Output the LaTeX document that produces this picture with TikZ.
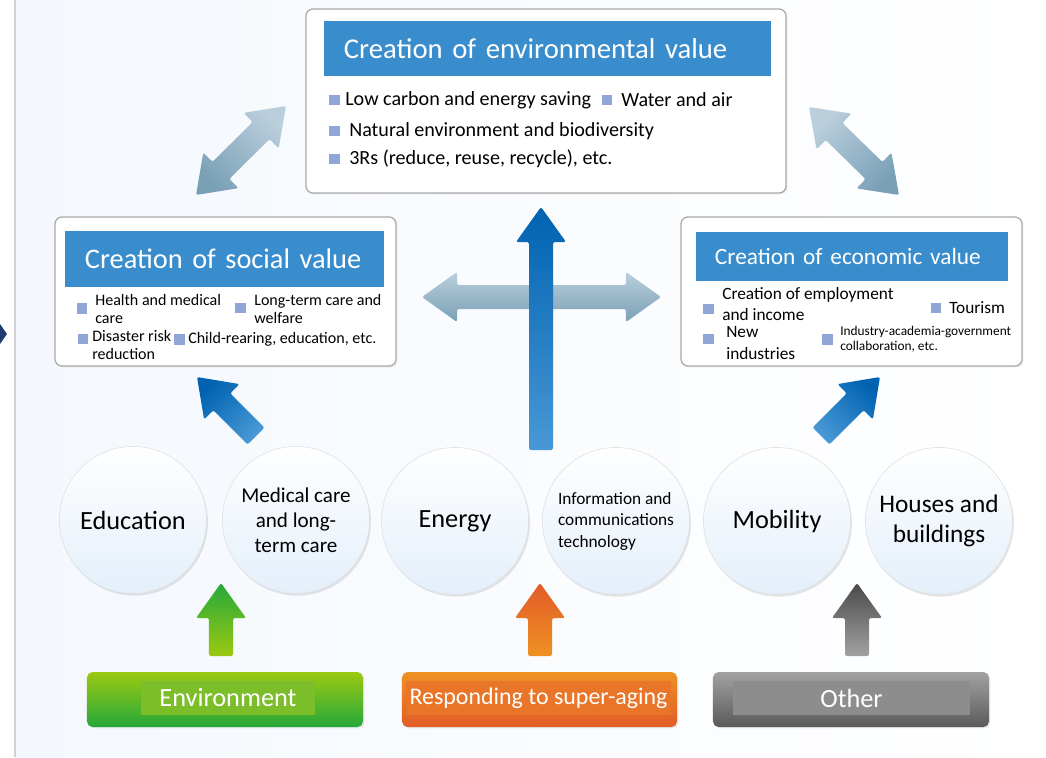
\documentclass[tikz,border=0pt]{standalone}
\usepackage{fontspec}
\setmainfont{Carlito}
\usetikzlibrary{calc,shadows}

\definecolor{titleblue}{RGB}{58,141,205}
\definecolor{bulletblue}{RGB}{143,166,214}
\definecolor{panelline}{RGB}{170,170,170}
\definecolor{palearrow}{RGB}{186,207,220}
\definecolor{palearrowdk}{RGB}{122,160,182}
\definecolor{bluedark}{RGB}{0,98,176}
\definecolor{bluelight}{RGB}{72,152,213}
\definecolor{circbot}{RGB}{228,239,250}
\definecolor{bgblue}{RGB}{244,248,253}
\definecolor{navy}{RGB}{31,58,110}
\definecolor{greentop}{RGB}{156,201,18}
\definecolor{greenbot}{RGB}{37,168,57}
\definecolor{greenin}{RGB}{124,189,42}
\definecolor{orangetop}{RGB}{238,146,35}
\definecolor{orangebot}{RGB}{226,91,40}
\definecolor{orangein}{RGB}{233,118,40}
\definecolor{graytop}{RGB}{162,162,162}
\definecolor{graybot}{RGB}{90,90,90}
\definecolor{grayin}{RGB}{141,141,141}

% block arrow: tail, tip, style
\newcommand\oneway[3]{%
  \coordinate (hb) at ($(#2)!0.875cm!(#1)$);
  \path[rounded corners=1.5pt, #3] ($(#1)!0.3cm!90:(#2)$) -- ($(hb)!0.3cm!90:(#2)$)
    -- ($(hb)!0.625cm!90:(#2)$) -- (#2) -- ($(hb)!0.625cm!-90:(#2)$)
    -- ($(hb)!0.3cm!-90:(#2)$) -- ($(#1)!0.3cm!-90:(#2)$) -- cycle;
}
% block arrow with two heads: tip, tip, style
\newcommand\twoway[3]{%
  \coordinate (hba) at ($(#1)!0.875cm!(#2)$);
  \coordinate (hbb) at ($(#2)!0.875cm!(#1)$);
  \path[rounded corners=1.5pt, #3] (#1) -- ($(hba)!0.625cm!90:(#2)$) -- ($(hba)!0.3cm!90:(#2)$)
    -- ($(hbb)!0.3cm!90:(#2)$) -- ($(hbb)!0.625cm!90:(#2)$) -- (#2)
    -- ($(hbb)!0.625cm!-90:(#2)$) -- ($(hbb)!0.3cm!-90:(#2)$)
    -- ($(hba)!0.3cm!-90:(#2)$) -- ($(hba)!0.625cm!-90:(#2)$) -- cycle;
}

\begin{document}
\begin{tikzpicture}[x=0.025cm, y=-0.025cm,
  panel/.style={draw=panelline, line width=0.9pt, fill=white, rounded corners=5pt,
    drop shadow={opacity=0.15, shadow xshift=1pt, shadow yshift=-1pt}},
  titlebar/.style={fill=titleblue, text=white, inner ysep=0, align=left},
  sq/.style={fill=bulletblue, minimum size=0.26cm, inner sep=0},
  item/.style={anchor=west, align=left, inner sep=0},
  topic/.style={circle, minimum size=3.675cm, draw=gray!25, top color=white, middle color=white,
    bottom color=circbot, align=center, inner sep=0,
    drop shadow={opacity=0.2, shadow xshift=1pt, shadow yshift=-1.5pt}},
  driver/.style={rounded corners=4pt, minimum width=6.9cm, minimum height=1.375cm, inner sep=0,
    drop shadow={opacity=0.15, shadow xshift=1pt, shadow yshift=-1pt}},
  drivertext/.style={text=white, minimum height=0.85cm, inner sep=0,
    font=\fontsize{18.7}{22}\selectfont},
  pale/.style={top color=palearrow, bottom color=palearrowdk},
  strong/.style={top color=bluedark, bottom color=bluelight}
]
\useasboundingbox (0,0) rectangle (1046,757);

% background
\fill[left color=bgblue, right color=white] (15,0) rectangle (1046,757);
\draw[gray!35, line width=1.5pt] (15,0) -- (15,757);
\fill[navy] (0,324) -- (7,334) -- (0,344) -- cycle;

% pale arrows between the values
\coordinate (socup) at (196,195);
\coordinate (envleft) at (286,106);
\coordinate (envright) at (809,107);
\coordinate (ecoup) at (899,195);
\coordinate (socside) at (422,297);
\coordinate (ecoside) at (661,297);
\twoway{socup}{envleft}{pale, shading angle=-45}
\twoway{envright}{ecoup}{pale, shading angle=45}
\twoway{socside}{ecoside}{pale}

% value panels
\node[panel, minimum width=12cm, minimum height=4.6cm] (envpanel) at (546,101) {};
\node[titlebar, minimum width=11.175cm, minimum height=1.375cm, text width=10.175cm, inner xsep=0.5cm,
  font=\fontsize{20.4}{24}\selectfont] (envtitle) at (547.5,48.5) {Creation of environmental value};

\node[panel, minimum width=8.525cm, minimum height=3.725cm] (socpanel) at (225.5,291.5) {};
\node[titlebar, minimum width=7.975cm, minimum height=1.4cm, text width=6.975cm, inner xsep=0.5cm,
  font=\fontsize{20.2}{24}\selectfont] (soctitle) at (224.5,259) {Creation of social value};

\node[panel, minimum width=8.525cm, minimum height=3.725cm] (ecopanel) at (851.5,291.5) {};
\node[titlebar, minimum width=7.8cm, minimum height=1.225cm, text width=6.85cm, inner xsep=0.475cm,
  font=\fontsize{16.6}{20}\selectfont] (ecotitle) at (852,256.5) {Creation of economic value};

% environmental items
\begin{scope}[font=\fontsize{14.3}{17}\selectfont]
  \node[sq] (sqlow) at (334.5,100) {};
  \node[item] (lowcarbon) at (345,100) {Low carbon and energy saving};
  \node[sq] (sqwater) at (607,100) {};
  \node[item] (water) at (621,100) {Water and air};
  \node[sq] (sqnature) at (334.5,131) {};
  \node[item] (nature) at (349,131) {Natural environment and biodiversity};
  \node[sq] (sqthree) at (334.5,159) {};
  \node[item] (threer) at (349,159) {3Rs (reduce, reuse, recycle), etc.};
\end{scope}

% social items
\begin{scope}[font=\fontsize{11.4}{13}\selectfont]
  \node[sq] (sqhealth) at (82,308.5) {};
  \node[item] (health) at (95,309) {Health and medical\\care};
  \node[sq] (sqwelfare) at (240.5,308) {};
  \node[item] (welfare) at (254,309) {Long-term care and\\welfare};
  \node[sq] (sqdisaster) at (83,339) {};
  \node[item] (disaster) at (92,345) {Disaster risk\\reduction};
  \node[sq] (sqchild) at (179.5,339.5) {};
  \node[item] (child) at (188,339) {Child-rearing, education, etc.};
\end{scope}

% economic items
\begin{scope}[font=\fontsize{12.3}{15.5}\selectfont]
  \node[sq] (sqjobs) at (708.5,309) {};
  \node[item] (jobs) at (722,304) {Creation of employment\\and income};
  \node[sq] (sqtourism) at (936,308) {};
  \node[item] (tourism) at (949,308) {Tourism};
  \node[sq] (sqnew) at (708.5,339) {};
  \node[item] (newind) at (726,343) {New\\industries};
  \node[sq] (sqcollab) at (827.5,339.5) {};
  \node[item, font=\fontsize{9.5}{10.8}\selectfont] (collab) at (840,339.5) {Industry-academia-government\\collaboration, etc.};
\end{scope}

% strong blue arrows
\coordinate (midtail) at (541,450);
\coordinate (midtip) at (541,207);
\coordinate (soctail) at (256,436);
\coordinate (soctip) at (197,377);
\coordinate (ecotail) at (821,436);
\coordinate (ecotip) at (880,377);
\oneway{midtail}{midtip}{strong}
\oneway{soctail}{soctip}{strong, shading angle=45}
\oneway{ecotail}{ecotip}{strong, shading angle=-45}

% fields
\node[topic, font=\fontsize{18.7}{22}\selectfont] (education) at (133,520) {Education};
\node[topic, font=\fontsize{15}{17.7}\selectfont] (medical) at (296,520) {Medical care\\and long-\\term care};
\node[topic, font=\fontsize{18.7}{22}\selectfont] (energy) at (455,521) {Energy};
\node[topic, align=left, font=\fontsize{12.3}{15.3}\selectfont] (ict) at (616,521) {Information and\\communications\\technology};
\node[topic, font=\fontsize{18.7}{22}\selectfont] (mobility) at (777,521) {Mobility};
\node[topic, font=\fontsize{18}{21.3}\selectfont] (houses) at (939,521) {Houses and\\buildings};

% drivers
\node[driver, top color=greentop, bottom color=greenbot] (envdriver) at (225,699.5) {};
\node[drivertext, fill=greenin, minimum width=4.35cm] (envtext) at (228,698) {Environment};
\node[driver, top color=orangetop, bottom color=orangebot, minimum width=6.875cm] (agedriver) at (539.5,699.5) {};
\node[drivertext, fill=orangein, minimum width=6.625cm, font=\fontsize{17}{20}\selectfont] (agetext) at (538.5,698) {Responding to super-aging};
\node[driver, top color=graytop, bottom color=graybot, minimum width=6.9cm] (otherdriver) at (851,699.5) {};
\node[drivertext, fill=grayin, minimum width=5.925cm] (othertext) at (851.5,698) {Other};

% driver arrows
\coordinate (greentail) at (221,656);
\coordinate (greentip) at (221,583);
\coordinate (orangetail) at (540,656);
\coordinate (orangetip) at (540,583);
\coordinate (graytail) at (857,656);
\coordinate (graytip) at (857,583);
\oneway{greentail}{greentip}{top color=greenbot, bottom color=greentop}
\oneway{orangetail}{orangetip}{top color=orangebot, bottom color=orangetop}
\oneway{graytail}{graytip}{top color=graybot!110, bottom color=graytop}

\end{tikzpicture}
\end{document}
